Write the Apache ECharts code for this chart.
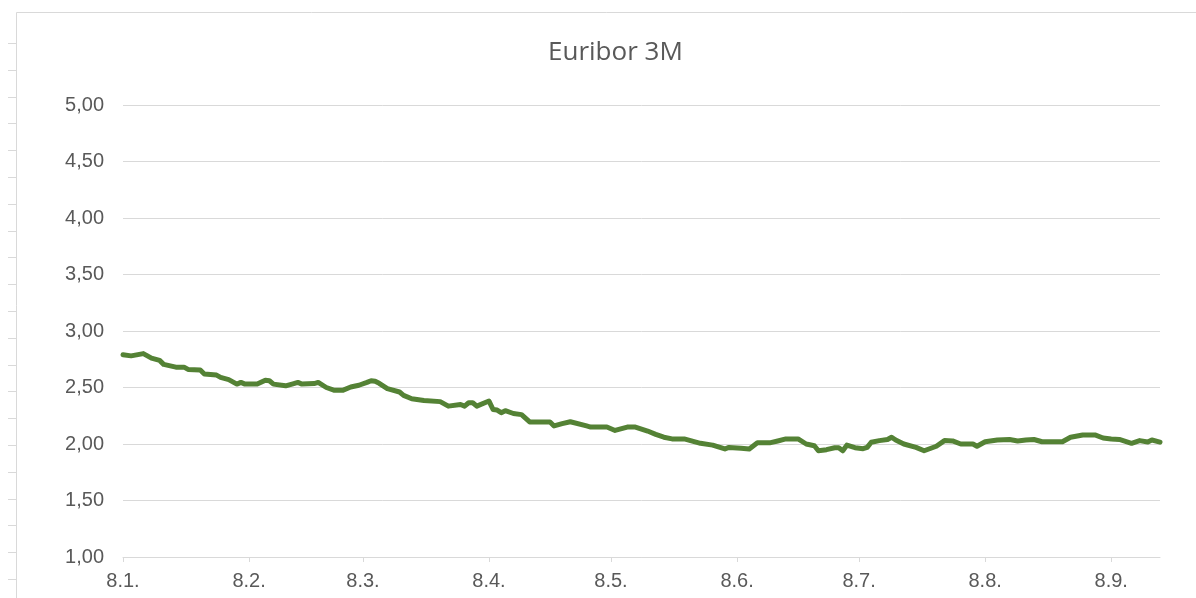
<!DOCTYPE html>
<html>
<head>
<meta charset="utf-8">
<script src="https://cdn.jsdelivr.net/npm/echarts@6/dist/echarts.min.js"></script>
<style>
  html, body { margin: 0; padding: 0; background: #fff; }
  #chart { width: 1196px; height: 598px; }
</style>
</head>
<body>
<div id="chart"></div>
<script>
// Euribor 3M, päivittäiset arvot (luettu kuvasta)
const dates = [
  '2025-01-08', '2025-01-10', '2025-01-13', '2025-01-15', '2025-01-17', '2025-01-18',
  '2025-01-21', '2025-01-23', '2025-01-24', '2025-01-27', '2025-01-28', '2025-01-31',
  '2025-02-01', '2025-02-03', '2025-02-05', '2025-02-06', '2025-02-07', '2025-02-10',
  '2025-02-12', '2025-02-13', '2025-02-14', '2025-02-17', '2025-02-19', '2025-02-20',
  '2025-02-21', '2025-02-24', '2025-02-25', '2025-02-27', '2025-03-01', '2025-03-03',
  '2025-03-05', '2025-03-07', '2025-03-09', '2025-03-10', '2025-03-11', '2025-03-12',
  '2025-03-14', '2025-03-17', '2025-03-18', '2025-03-20', '2025-03-23', '2025-03-27',
  '2025-03-29', '2025-04-01', '2025-04-02', '2025-04-03', '2025-04-04', '2025-04-05',
  '2025-04-08', '2025-04-09', '2025-04-10', '2025-04-11', '2025-04-12', '2025-04-14',
  '2025-04-16', '2025-04-18', '2025-04-23', '2025-04-24', '2025-04-26', '2025-04-28',
  '2025-05-02', '2025-05-03', '2025-05-07', '2025-05-09', '2025-05-12', '2025-05-14',
  '2025-05-17', '2025-05-19', '2025-05-21', '2025-05-23', '2025-05-26', '2025-05-30',
  '2025-06-02', '2025-06-04', '2025-06-05', '2025-06-06', '2025-06-09', '2025-06-11',
  '2025-06-13', '2025-06-16', '2025-06-18', '2025-06-20', '2025-06-23', '2025-06-25',
  '2025-06-27', '2025-06-28', '2025-06-30', '2025-07-02', '2025-07-03', '2025-07-04',
  '2025-07-05', '2025-07-07', '2025-07-09', '2025-07-10', '2025-07-11', '2025-07-13',
  '2025-07-15', '2025-07-16', '2025-07-17', '2025-07-19', '2025-07-22', '2025-07-24',
  '2025-07-27', '2025-07-29', '2025-07-31', '2025-08-02', '2025-08-05', '2025-08-06',
  '2025-08-08', '2025-08-11', '2025-08-14', '2025-08-16', '2025-08-18', '2025-08-20',
  '2025-08-22', '2025-08-27', '2025-08-29', '2025-09-01', '2025-09-04', '2025-09-06',
  '2025-09-08', '2025-09-10', '2025-09-13', '2025-09-15', '2025-09-17', '2025-09-18',
  '2025-09-20'
];
const rates = [
  2.79, 2.78, 2.80, 2.76, 2.74, 2.705,
  2.68, 2.68, 2.66, 2.655, 2.62, 2.61,
  2.59, 2.57, 2.53, 2.545, 2.53, 2.53,
  2.565, 2.56, 2.53, 2.515, 2.535, 2.545,
  2.53, 2.535, 2.545, 2.50, 2.475, 2.475,
  2.505, 2.52, 2.545, 2.56, 2.555, 2.537,
  2.49, 2.46, 2.43, 2.40, 2.385, 2.375,
  2.335, 2.35, 2.335, 2.365, 2.365, 2.335,
  2.38, 2.305, 2.30, 2.277, 2.295, 2.27,
  2.26, 2.195, 2.195, 2.16, 2.18, 2.197,
  2.16, 2.15, 2.15, 2.12, 2.15, 2.15,
  2.115, 2.085, 2.06, 2.045, 2.045, 2.006,
  1.99, 1.967, 1.956, 1.97, 1.962, 1.956,
  2.01, 2.01, 2.027, 2.045, 2.045, 2.00,
  1.985, 1.94, 1.95, 1.967, 1.967, 1.94,
  1.99, 1.967, 1.958, 1.97, 2.015, 2.03,
  2.04, 2.06, 2.035, 2.00, 1.97, 1.94,
  1.98, 2.03, 2.027, 2.00, 2.00, 1.98,
  2.02, 2.035, 2.04, 2.027, 2.035, 2.04,
  2.02, 2.02, 2.06, 2.08, 2.08, 2.053,
  2.045, 2.04, 2.006, 2.03, 2.017, 2.035,
  2.017
];
const xTicks = [
  '2025-01-08', '2025-02-08', '2025-03-08', '2025-04-08', '2025-05-08',
  '2025-06-08', '2025-07-08', '2025-08-08', '2025-09-08'
];
const xMin = '2025-01-08';
const xMax = '2025-09-20';

function toTime(s) {
  const p = s.split('-');
  return new Date(+p[0], +p[1] - 1, +p[2]).getTime();
}

const chart = echarts.init(document.getElementById('chart'));
const tickTimes = xTicks.map(toTime);

// taulukon rivien viivat vasemmassa reunassa
const rowLines = [];
for (let y = 43; y < 598; y += 26.8) {
  rowLines.push({
    type: 'line',
    shape: { x1: 8, y1: Math.round(y) + 0.5, x2: 17, y2: Math.round(y) + 0.5 },
    style: { stroke: '#d9d9d9', lineWidth: 1 }
  });
}

const option = {
  animation: false,
  backgroundColor: '#fff',
  title: {
    text: 'Euribor 3M',
    left: 543,
    top: 35,
    textStyle: {
      fontFamily: 'Open Sans',
      fontSize: 26,
      fontWeight: 'normal',
      color: '#595959'
    }
  },
  graphic: [
    {
      type: 'polyline',
      shape: { points: [[16.5, 598], [16.5, 12.5], [1196, 12.5]] },
      style: { stroke: '#d9d9d9', lineWidth: 1, fill: null }
    }
  ].concat(rowLines),
  grid: { left: 123, right: 36, top: 105, bottom: 41 },
  xAxis: {
    type: 'value',
    min: toTime(xMin),
    max: toTime(xMax),
    axisLine: { lineStyle: { color: '#d9d9d9', width: 1 } },
    axisTick: {
      show: true,
      length: 5,
      lineStyle: { color: '#d9d9d9' },
      customValues: tickTimes
    },
    splitLine: { show: false },
    axisLabel: {
      customValues: tickTimes,
      margin: 14,
      fontFamily: 'Liberation Sans',
      fontSize: 20,
      color: '#595959',
      formatter: function (v) {
        const d = new Date(v);
        return d.getDate() + '.' + (d.getMonth() + 1) + '.';
      }
    }
  },
  yAxis: {
    type: 'value',
    min: 1,
    max: 5,
    interval: 0.5,
    axisLine: { show: false },
    axisTick: { show: false },
    splitLine: { lineStyle: { color: '#d9d9d9', width: 1 } },
    axisLabel: {
      margin: 19,
      fontFamily: 'Liberation Sans',
      fontSize: 20,
      color: '#595959',
      formatter: function (v) {
        return v.toFixed(2).replace('.', ',');
      }
    }
  },
  series: [
    {
      type: 'line',
      data: dates.map((d, i) => [toTime(d), rates[i]]),
      showSymbol: false,
      symbol: 'none',
      lineStyle: { color: '#548235', width: 5, join: 'round', cap: 'round' }
    }
  ]
};
chart.setOption(option);
</script>
</body>
</html>
